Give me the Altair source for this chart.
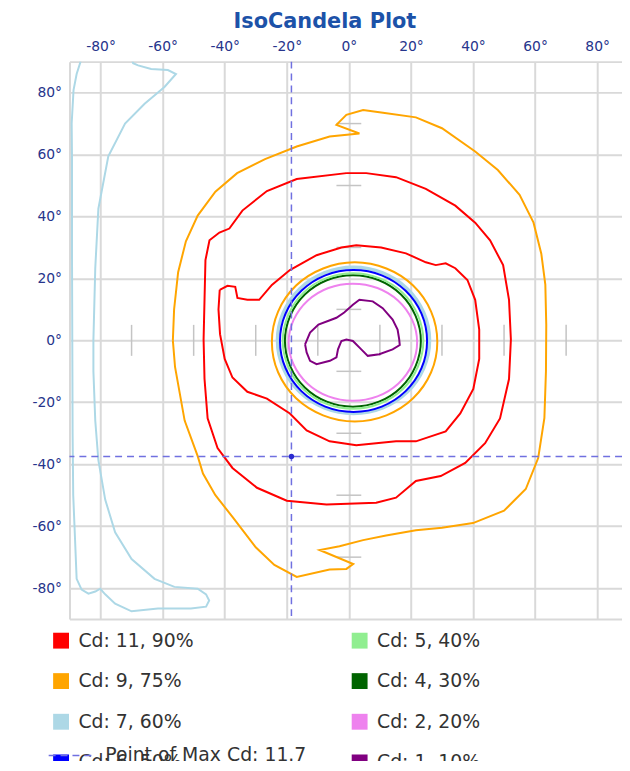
import altair as alt
import pandas as pd

TITLE = "IsoCandela Plot"
SERIES = ["Cd: 11, 90%", "Cd: 9, 75%", "Cd: 7, 60%", "Cd: 6, 50%",
          "Cd: 5, 40%", "Cd: 4, 30%", "Cd: 2, 20%", "Cd: 1, 10%"]
COLORS = ["#ff0000", "#ffa500", "#add8e6", "#0000ff",
          "#90ee90", "#006400", "#ee82ee", "#800080"]
TICK_VALUES = [-90, -80, -60, -40, -20, 0, 20, 40, 60, 80, 90]
MAX_LABEL = "Point of Max Cd: 11.7"
MAX_X = [-18.5]
MAX_Y = [-37.5]

# small cross marks on the centre lines
CROSS_H_Y = [70, 50, 30, 10, -10, -30, -50, -70]
CROSS_V_X = [-70, -50, -30, -10, 10, 30, 50, 70]

# ---- near-circular contours (degrees) ----
PINK_X = [22.0, 20.4, 15.9, 9.2, 1.3, -6.6, -13.3, -17.8, -19.4, -17.8, -13.3, -6.6, 1.3, 9.2, 15.9, 20.4]
PINK_Y = [-0.6, 6.6, 12.8, 16.9, 18.3, 16.9, 12.8, 6.6, -0.6, -7.8, -14.0, -18.1, -19.5, -18.1, -14.0, -7.8]
GREEN_X = [23.2, 21.5, 16.8, 9.7, 1.3, -7.1, -14.2, -18.9, -20.6, -18.9, -14.2, -7.1, 1.3, 9.7, 16.8, 21.5]
GREEN_Y = [-0.2, 7.9, 14.8, 19.4, 21.0, 19.4, 14.8, 7.9, -0.2, -8.3, -15.2, -19.8, -21.4, -19.8, -15.2, -8.3]
LGREEN_X = [24.0, 22.2, 17.4, 10.0, 1.4, -7.4, -14.7, -19.5, -21.3, -19.5, -14.7, -7.4, 1.4, 10.0, 17.4, 22.2]
LGREEN_Y = [-0.2, 8.2, 15.3, 20.0, 21.7, 20.0, 15.3, 8.2, -0.2, -8.6, -15.7, -20.4, -22.1, -20.4, -15.7, -8.6]
BLUE_X = [25.2, 23.4, 18.3, 10.6, 1.5, -7.6, -15.3, -20.4, -22.2, -20.4, -15.3, -7.6, 1.5, 10.6, 18.3, 23.4]
BLUE_Y = [-0.2, 8.6, 16.0, 21.0, 22.7, 21.0, 16.0, 8.6, -0.2, -9.0, -16.4, -21.4, -23.1, -21.4, -16.4, -9.0]
LBLUE_RING_X = [26.0, 24.1, 18.8, 10.9, 1.5, -7.9, -15.8, -21.1, -23.0, -21.1, -15.8, -7.9, 1.5, 10.9, 18.8, 24.1]
LBLUE_RING_Y = [0.0, 9.0, 16.7, 21.8, 23.6, 21.8, 16.7, 9.0, 0.0, -9.0, -16.7, -21.8, -23.6, -21.8, -16.7, -9.0]
ORANGE_RING_X = [28.5, 26.5, 20.7, 12.1, 1.9, -8.3, -17.0, -22.8, -24.8, -22.8, -17.0, -8.3, 1.9, 12.1, 20.7, 26.5]
ORANGE_RING_Y = [-0.5, 9.3, 17.7, 23.2, 25.2, 23.2, 17.7, 9.3, -0.5, -10.3, -18.7, -24.2, -26.2, -24.2, -18.7, -10.3]

# ---- irregular contours (degrees) ----
PURPLE_X = [-14.1, -12.5, -9.8, -6.1, -4.0, -1.5, 1.3, 3.4, 7.7, 10.9, 14.1, 15.7, 16.2, 16.4, 14.1, 9.8,
            6.1, 4.0, 1.3, -0.8, -2.4, -3.5, -4.0, -6.1, -10.4, -12.5, -13.6, -14.1]
PURPLE_Y = [-1.3, 2.5, 5.1, 6.5, 7.3, 9.0, 11.5, 13.1, 12.6, 10.4, 6.7, 3.5, 0.5, -1.5, -2.9, -4.5,
            -5.0, -2.9, -0.2, 0.3, -0.2, -2.9, -5.5, -6.6, -7.7, -6.6, -3.9, -1.3]

RED_IN_X = [-41.6, -39.1, -36.6, -35.9, -32.7, -28.9, -24.8, -19.0, -10.4, -2.4, 2.4, 10.4, 18.4, 24.8,
            28.0, 31.2, 34.3, 38.2, 40.7, 42.0, 42.0, 40.1, 35.9, 31.2, 21.6, 15.2, 2.4, -6.2, -13.6,
            -19.0, -26.4, -32.7, -37.5, -40.0, -41.5, -42.0, -41.6]
RED_IN_Y = [16.3, 17.6, 17.3, 13.7, 13.1, 13.1, 17.9, 22.7, 27.5, 30.0, 30.7, 30.0, 28.1, 25.2,
            24.3, 24.9, 23.3, 19.5, 13.1, 3.5, -6.0, -15.7, -23.6, -29.4, -32.6, -32.6, -33.9, -32.6, -29.1,
            -23.6, -18.8, -16.6, -12.0, -6.0, 2.0, 10.0, 16.3]
RED_OUT_X = [-0.8, -16.8, -26.4, -34.3, -38.5, -41.7, -44.9, -46.2, -46.5, -46.8, -46.5, -45.5, -42.3,
             -37.5, -29.6, -20.0, -7.2, 8.8, 15.2, 21.6, 29.6, 37.5, 43.9, 48.7, 51.6, 52.2, 51.6, 49.7,
             45.5, 40.7, 34.3, 24.8, 15.2, 5.6, -0.8]
RED_OUT_Y = [54.0, 52.1, 48.2, 41.9, 36.1, 34.8, 32.3, 25.9, 13.1, 0.3, -12.5, -25.2, -34.8,
             -41.2, -47.6, -51.8, -53.0, -52.4, -50.8, -45.4, -43.8, -39.6, -33.2, -25.2, -12.5, 0.3, 13.1, 24.3,
             32.3, 38.0, 43.5, 48.9, 52.7, 54.0, 54.0]
ORANGE_OUT_X = [-56.7, -56.3, -55.0, -52.5, -48.7, -43.0, -36.0, -27.0, -16.8, -6.2, 3.4, -4.0, -0.8, 4.6,
                11.0, 21.6, 30.0, 40.7, 48.0, 55.0, 59.5, 62.0, 63.3, 63.6, 63.5, 63.0, 61.0, 57.0, 50.0,
                40.0, 30.0, 21.6, 12.0, 4.6, -3.0, -9.4, 1.4, -0.8, -6.2, -16.8, -24.0, -30.0, -37.5,
                -43.0, -47.0, -48.7, -52.9, -56.0, -56.7]
ORANGE_OUT_Y = [0.0, 10.0, 22.0, 32.0, 40.3, 48.0, 54.0, 58.5, 62.6, 65.8, 66.8, 69.6, 72.8, 74.4,
                73.5, 72.0, 68.5, 61.0, 55.0, 47.0, 38.0, 28.0, 18.0, 5.0, -10.0, -25.0, -38.0, -48.0, -55.0,
                -59.0, -60.5, -61.3, -63.0, -64.5, -66.5, -67.7, -72.2, -73.8, -74.0, -76.4, -72.5, -66.8, -57.0,
                -50.0, -43.0, -37.4, -25.9, -8.6, 0.0]
LBLUE_BAND_X = [-86.5, -86.5, -87.7, -88.7, -89.3, -89.2, -89.2, -89.1, -89.0, -88.8, -88.4, -87.7, -86.1,
                -83.9, -81.7, -80.1, -78.5, -75.3, -70.0, -61.5, -50.9, -46.0, -45.0, -46.0, -48.7, -56.2,
                -62.6, -70.0, -75.3, -78.5, -80.7, -81.7, -82.3, -82.3, -81.7, -80.7, -77.5, -72.1, -65.8,
                -59.4, -55.7, -58.3, -63.7, -67.9, -69.5, -70.0]
LBLUE_BAND_Y = [91.0, 89.8, 86.0, 80.8, 70.0, 59.4, 30.0, 0.0, -30.0, -50.0, -59.7, -77.0, -80.5,
                -81.8, -81.1, -80.2, -82.0, -85.0, -87.5, -86.6, -86.6, -86.0, -84.0, -82.0, -80.2, -79.6,
                -77.0, -70.6, -62.0, -51.4, -38.7, -25.9, -10.0, 0.0, 23.3, 42.5, 59.4, 70.0, 76.4,
                81.8, 86.0, 87.3, 87.6, 88.8, 89.5, 91.0]


def frame(series, part, xs, ys):
    return pd.DataFrame({"series": series, "part": part, "i": list(range(len(xs))), "x": xs, "y": ys})


rings = pd.concat([
    frame(SERIES[6], "pink", PINK_X, PINK_Y),
    frame(SERIES[5], "green", GREEN_X, GREEN_Y),
    frame(SERIES[4], "lgreen", LGREEN_X, LGREEN_Y),
    frame(SERIES[3], "blue", BLUE_X, BLUE_Y),
    frame(SERIES[1], "orange_ring", ORANGE_RING_X, ORANGE_RING_Y),
], ignore_index=True)
lb_ring = frame(SERIES[2], "lblue_ring", LBLUE_RING_X, LBLUE_RING_Y)
loops = pd.concat([
    frame(SERIES[2], "lblue_band", LBLUE_BAND_X, LBLUE_BAND_Y),
    frame(SERIES[0], "red_out", RED_OUT_X, RED_OUT_Y),
    frame(SERIES[0], "red_in", RED_IN_X, RED_IN_Y),
    frame(SERIES[1], "orange_out", ORANGE_OUT_X, ORANGE_OUT_Y),
    frame(SERIES[7], "purple", PURPLE_X, PURPLE_Y),
], ignore_index=True)

cross_h = pd.DataFrame({"y": CROSS_H_Y, "x1": [-4] * len(CROSS_H_Y), "x2": [4] * len(CROSS_H_Y)})
cross_v = pd.DataFrame({"x": CROSS_V_X, "y1": [-5] * len(CROSS_V_X), "y2": [5] * len(CROSS_V_X)})
maxdf = pd.DataFrame({"x": MAX_X, "y": MAX_Y, "label": [MAX_LABEL]})

LABEL_EXPR = "abs(datum.value) > 85 ? '' : datum.value + '°'"
GRID = "#d9d9d9"
x_axis = alt.Axis(orient="top", values=TICK_VALUES, labelExpr=LABEL_EXPR, grid=True, gridColor=GRID,
                  gridWidth=2, ticks=False, domain=False, labelFont="DejaVu Sans", labelFontSize=14,
                  labelColor="#27358c", labelPadding=8, title=None, labelFlush=False, labelOverlap=False)
y_axis = alt.Axis(orient="left", values=TICK_VALUES, labelExpr=LABEL_EXPR, grid=True, gridColor=GRID,
                  gridWidth=2, ticks=False, domain=False, labelFont="DejaVu Sans", labelFontSize=14,
                  labelColor="#27358c", labelPadding=8, title=None, labelFlush=False, labelOverlap=False)
xs = alt.Scale(domain=[-90, 88], nice=False, zero=False)
ys = alt.Scale(domain=[-90, 90], nice=False, zero=False)

stroke_legend = alt.Legend(
    orient="none", legendX=-18, legendY=574, columns=2, columnPadding=146, rowPadding=0,
    symbolType="square", symbolSize=64, symbolStrokeWidth=8, symbolOpacity=1, labelFont="DejaVu Sans",
    labelFontSize=19, labelColor="#333333", labelOffset=8, title=None, padding=0, labelLimit=300)
stroke_line = alt.Stroke("series:N", scale=alt.Scale(domain=SERIES, range=COLORS), legend=stroke_legend)

dash_legend = alt.Legend(orient="none", legendX=-22, legendY=676, symbolType="stroke", symbolSize=2025,
                         symbolStrokeColor="#7070e0", symbolStrokeWidth=1.5, labelFont="DejaVu Sans",
                         labelFontSize=19, labelColor="#333333", labelOffset=11, title=None, padding=0,
                         labelLimit=400, symbolOpacity=1)
dash_enc = alt.StrokeDash("label:N", scale=alt.Scale(domain=[MAX_LABEL], range=[[7, 5]]), legend=dash_legend)

ch = alt.Chart(cross_h).mark_rule(color="#c4c4c4", strokeWidth=1.5).encode(
    x=alt.X("x1:Q", scale=xs, axis=x_axis), x2="x2:Q", y=alt.Y("y:Q", scale=ys, axis=y_axis))
cv = alt.Chart(cross_v).mark_rule(color="#c4c4c4", strokeWidth=1.5).encode(
    x=alt.X("x:Q", scale=xs, axis=x_axis), y=alt.Y("y1:Q", scale=ys, axis=y_axis), y2="y2:Q")

lbr = alt.Chart(lb_ring).mark_line(interpolate="cardinal-closed", strokeWidth=3.5, clip=True).encode(
    x=alt.X("x:Q", scale=xs, axis=x_axis), y=alt.Y("y:Q", scale=ys, axis=y_axis),
    stroke=stroke_line, detail="part:N", order="i:Q")
rg = alt.Chart(rings).mark_line(interpolate="cardinal-closed", strokeWidth=2, clip=True).encode(
    x=alt.X("x:Q", scale=xs, axis=x_axis), y=alt.Y("y:Q", scale=ys, axis=y_axis),
    stroke=stroke_line, detail="part:N", order="i:Q")
lp = alt.Chart(loops).mark_line(interpolate="linear", strokeWidth=2, clip=True).encode(
    x=alt.X("x:Q", scale=xs, axis=x_axis), y=alt.Y("y:Q", scale=ys, axis=y_axis),
    stroke=stroke_line, detail="part:N", order="i:Q")

mv = alt.Chart(maxdf).mark_rule(color="#7070e0", strokeWidth=1.5).encode(
    x=alt.X("x:Q", scale=xs, axis=x_axis), strokeDash=dash_enc)
mh = alt.Chart(maxdf).mark_rule(color="#7070e0", strokeWidth=1.5).encode(
    y=alt.Y("y:Q", scale=ys, axis=y_axis), strokeDash=dash_enc)
dot = alt.Chart(maxdf).mark_circle(size=30, color="#2b2bd0", opacity=1).encode(
    x=alt.X("x:Q", scale=xs, axis=x_axis), y=alt.Y("y:Q", scale=ys, axis=y_axis))

chart = alt.layer(ch, cv, lbr, rg, lp, mv, mh, dot).properties(
    width=557, height=562,
    title=alt.TitleParams(TITLE, font="DejaVu Sans", fontSize=21, fontWeight="bold", color="#1c52a8",
                          anchor="middle", dx=-21, offset=8),
    autosize=alt.AutoSizeParams(type="none"),
    padding={"left": 62, "top": 51, "right": 0, "bottom": 140},
    background="white",
).configure_view(stroke=None)

chart.save("out.html", embed_options={"renderer": "svg", "actions": False})
